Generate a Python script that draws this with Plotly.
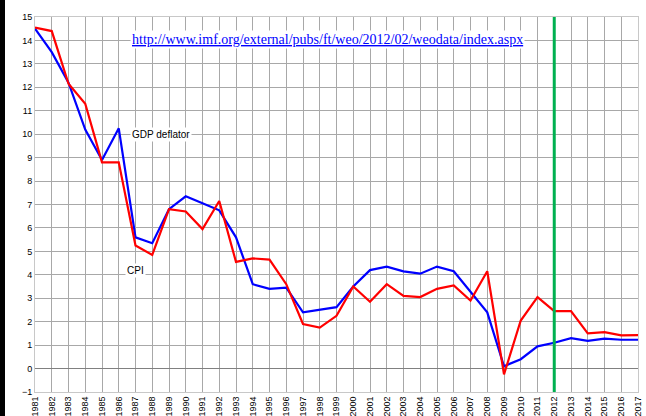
import plotly.graph_objects as go

years = list(range(1981, 2018))
gdp_deflator = [14.5, 13.5, 12.2, 10.2, 8.9, 10.25, 5.6, 5.35, 6.8, 7.35, 7.05, 6.75, 5.6,
                3.6, 3.4, 3.45, 2.4, 2.5, 2.62, 3.5, 4.2, 4.35, 4.15, 4.05, 4.35, 4.15,
                3.25, 2.4, 0.1, 0.4, 0.95, 1.1, 1.3, 1.18, 1.28, 1.23, 1.23]
cpi = [14.55, 14.4, 12.15, 11.3, 8.8, 8.8, 5.25, 4.85, 6.8, 6.7, 5.95, 7.15, 4.55,
       4.7, 4.65, 3.6, 1.9, 1.75, 2.25, 3.5, 2.85, 3.6, 3.1, 3.05, 3.4, 3.55,
       2.9, 4.15, -0.25, 2.05, 3.05, 2.45, 2.45, 1.5, 1.55, 1.42, 1.43]
y_ticks = list(range(-1, 16))
marker_year = 2012
url_text = "http://www.imf.org/external/pubs/ft/weo/2012/02/weodata/index.aspx"

fig = go.Figure()
fig.add_trace(go.Scatter(x=years, y=gdp_deflator, mode="lines", name="GDP deflator",
                         line=dict(color="#0000ff", width=2.2)))
fig.add_trace(go.Scatter(x=years, y=cpi, mode="lines", name="CPI",
                         line=dict(color="#ff0000", width=2.2)))

fig.add_shape(type="line", x0=marker_year, x1=marker_year, y0=0, y1=1, xref="x", yref="paper",
              line=dict(color="#00b050", width=3))

W, H = 646, 416
ml, mr, mt, mb = 35, 8, 17, 24
pw, ph = W - ml - mr, H - mt - mb

fig.add_annotation(x=1988.5, y=10.0, text="GDP deflator", showarrow=False,
                   font=dict(family="Liberation Sans, Arial", size=10, color="black"),
                   bgcolor="white")
fig.add_annotation(x=1987, y=4.2, text="CPI", showarrow=False,
                   font=dict(family="Liberation Sans, Arial", size=10, color="black"),
                   bgcolor="white")
fig.add_annotation(x=1998.45, y=14.05, text="<u>" + url_text + "</u>", showarrow=False,
                   font=dict(family="Liberation Serif, Times New Roman, serif", size=14, color="#0000ff"),
                   bgcolor="white")

fig.update_layout(
    width=W, height=H,
    margin=dict(l=ml, r=mr, t=mt, b=mb),
    paper_bgcolor="white", plot_bgcolor="white",
    showlegend=False,
)
fig.update_xaxes(range=[1981, 2017], tickmode="array", tickvals=years,
                 ticktext=[str(y) for y in years], tickangle=-90,
                 tickfont=dict(family="Liberation Sans, Arial", size=9, color="black"),
                 showgrid=True, gridcolor="#a8a8a8", gridwidth=1,
                 showline=True, linecolor="#c8c8c8", mirror=True,
                 zeroline=False, automargin=False, ticks="")
fig.update_yaxes(range=[-1, 15], tickmode="array", tickvals=y_ticks,
                 tickfont=dict(family="Liberation Sans, Arial", size=9, color="black"),
                 showgrid=True, gridcolor="#a8a8a8", gridwidth=1,
                 showline=True, linecolor="#c8c8c8", mirror=True,
                 zeroline=True, zerolinecolor="#808080", zerolinewidth=1,
                 automargin=False, ticks="")

post = ("document.body.style.margin='0';document.body.style.overflow='hidden';"
        "var d=document.createElement('div');d.style.position='fixed';d.style.left='0px';"
        "d.style.top='0px';d.style.width='5px';d.style.height='100%';d.style.background='black';"
        "d.style.zIndex='1000';document.body.appendChild(d);")
fig.write_html("out.html", config={"displayModeBar": False}, post_script=post)
